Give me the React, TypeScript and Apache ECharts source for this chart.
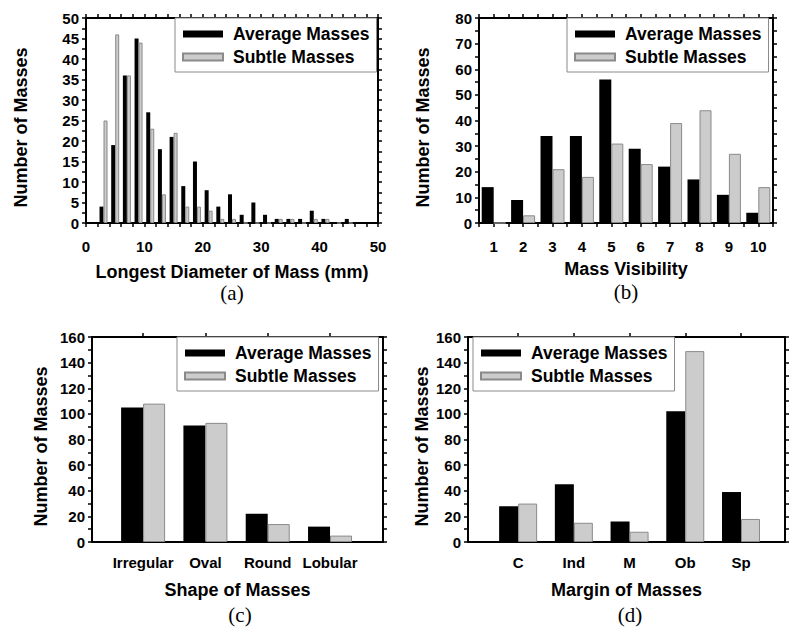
import React, { useEffect, useRef } from "react";
import * as echarts from "echarts";

// (a) Longest diameter of mass (mm)
const diamBins = [3, 5, 7, 9, 11, 13, 15, 17, 19, 21, 23, 25, 27, 29, 31, 33, 35, 37, 39, 41, 43, 45];
const diamAverage = [4, 19, 36, 45, 27, 18, 21, 9, 15, 8, 4, 7, 2, 5, 2, 1, 1, 1, 3, 1, 0, 1];
const diamSubtle = [25, 46, 36, 44, 23, 7, 22, 4, 4, 3, 1, 1, 0, 0, 0, 1, 1, 0, 1, 1, 0, 0];

// (b) Mass visibility
const visLevels = [1, 2, 3, 4, 5, 6, 7, 8, 9, 10];
const visAverage = [14, 9, 34, 34, 56, 29, 22, 17, 11, 4];
const visSubtle = [0, 3, 21, 18, 31, 23, 39, 44, 27, 14];

// (c) Shape of masses
const shapeCats = ["Irregular", "Oval", "Round", "Lobular"];
const shapeAverage = [105, 91, 22, 12];
const shapeSubtle = [108, 93, 14, 5];

// (d) Margin of masses
const marginCats = ["C", "Ind", "M", "Ob", "Sp"];
const marginAverage = [28, 45, 16, 102, 39];
const marginSubtle = [30, 15, 8, 149, 18];

const seriesNames = ["Average Masses", "Subtle Masses"];
const captions = ["(a)", "(b)", "(c)", "(d)"];

const FONT = '"Liberation Sans", Arial, Helvetica, sans-serif';
const SERIF = '"Liberation Serif", "Times New Roman", serif';
const AXIS_LINE = { color: "#000", width: 2 };
const TICK_LINE = { color: "#000", width: 1.5 };

const labelStyle = { fontFamily: FONT, fontWeight: "bold" as const, fontSize: 15, color: "#000" };
const nameStyle = { fontFamily: FONT, fontWeight: "bold" as const, fontSize: 18, color: "#000" };

type AxisCfg = {
  min: number;
  max: number;
  interval?: number;
  minorSplit?: number;
  customTicks?: number[];
  customLabels?: number[];
  formatter?: (v: number) => string;
  bottomTicks?: boolean;
};

function xAxes(grid: number, cfg: AxisCfg, name: string, nameGap: number, labelMargin: number) {
  const base: any = {
    type: "value",
    gridIndex: grid,
    min: cfg.min,
    max: cfg.max,
    splitLine: { show: false },
    minorSplitLine: { show: false },
    axisLine: { show: true, onZero: false, lineStyle: AXIS_LINE },
  };
  if (cfg.interval !== undefined) base.interval = cfg.interval;
  const tick: any = { show: true, inside: false, length: 4, lineStyle: TICK_LINE };
  if (cfg.customTicks) tick.customValues = cfg.customTicks;
  const minor: any = cfg.minorSplit
    ? { show: true, splitNumber: cfg.minorSplit, length: 4, lineStyle: TICK_LINE }
    : { show: false };
  const label: any = { ...labelStyle, margin: labelMargin, showMinLabel: true, showMaxLabel: true };
  if (cfg.customLabels) label.customValues = cfg.customLabels;
  if (cfg.formatter) label.formatter = cfg.formatter;
  return [
    {
      ...base,
      position: "bottom",
      axisTick: cfg.bottomTicks === false ? { show: false } : tick,
      minorTick: cfg.bottomTicks === false ? { show: false } : minor,
      axisLabel: label,
      name,
      nameLocation: "middle",
      nameGap,
      nameTextStyle: nameStyle,
    },
    {
      ...base,
      position: "top",
      axisTick: tick,
      minorTick: minor,
      axisLabel: { show: false },
    },
  ];
}

function yAxes(grid: number, max: number, interval: number, nameGap: number) {
  const base: any = {
    type: "value",
    gridIndex: grid,
    min: 0,
    max,
    interval,
    splitLine: { show: false },
    minorSplitLine: { show: false },
    axisLine: { show: true, onZero: false, lineStyle: AXIS_LINE },
    axisTick: { show: true, inside: false, length: 4, lineStyle: TICK_LINE },
    minorTick: { show: true, splitNumber: 2, length: 4, lineStyle: TICK_LINE },
  };
  return [
    {
      ...base,
      position: "left",
      axisLabel: { ...labelStyle, margin: 7, showMinLabel: true, showMaxLabel: true },
      name: "Number of Masses",
      nameLocation: "middle",
      nameGap,
      nameRotate: 90,
      nameTextStyle: { ...nameStyle, padding: [0, 14, 0, 0] },
    },
    { ...base, position: "right", axisLabel: { show: false } },
  ];
}

function barPair(xIdx: number, yIdx: number, xs: number[], avg: number[], sub: number[], width: number) {
  return [
    {
      type: "bar",
      name: seriesNames[0],
      xAxisIndex: xIdx,
      yAxisIndex: yIdx,
      barWidth: width,
      barGap: "0%",
      itemStyle: { color: "#000", borderColor: "#000", borderWidth: 0 },
      data: xs.map((x, i) => [x, avg[i]]),
    },
    {
      type: "bar",
      name: seriesNames[1],
      xAxisIndex: xIdx,
      yAxisIndex: yIdx,
      barWidth: width,
      barGap: "0%",
      itemStyle: { color: "#cccccc", borderColor: "#8a8a8a", borderWidth: 1 },
      data: xs.map((x, i) => [x, sub[i]]),
    },
  ];
}

function legendAt(left: number, top: number) {
  return {
    data: seriesNames,
    orient: "vertical",
    left,
    top,
    icon: "rect",
    itemWidth: 40,
    itemHeight: 7,
    itemGap: 5,
    padding: [7, 7, 6, 7],
    backgroundColor: "#fff",
    borderColor: "#8a8a8a",
    borderWidth: 1,
    borderRadius: 0,
    selectedMode: false,
    textStyle: { fontFamily: FONT, fontWeight: "bold", fontSize: 17.5, color: "#000", padding: [0, 0, 0, 5] },
  };
}

export default function App() {
  const ref = useRef<HTMLDivElement>(null);
  useEffect(() => {
    if (!ref.current) return;
    const chart = echarts.init(ref.current, null, { renderer: "svg" });

    const shapePos = shapeCats.map((_, i) => i + 1);
    const marginPos = marginCats.map((_, i) => i + 1);

    const xA = xAxes(0, { min: 0, max: 50, interval: 10, minorSplit: 5 }, "Longest Diameter of Mass (mm)", 40, 16);
    const xB = xAxes(
      1,
      { min: 0.5, max: 10.5, interval: 0.5, formatter: (v: number) => (Number.isInteger(v) ? String(v) : "") },
      "Mass Visibility",
      37,
      16
    );
    const xC = xAxes(
      2,
      {
        min: 0.18,
        max: 4.85,
        customTicks: shapePos,
        customLabels: shapePos,
        formatter: (v: number) => shapeCats[Math.round(v) - 1] ?? "",
        bottomTicks: false,
      },
      "Shape of Masses",
      39,
      13
    );
    const xD = xAxes(
      3,
      {
        min: 0.1,
        max: 5.79,
        customTicks: marginPos,
        customLabels: marginPos,
        formatter: (v: number) => marginCats[Math.round(v) - 1] ?? "",
        bottomTicks: false,
      },
      "Margin of Masses",
      39,
      13
    );

    const option: any = {
      animation: false,
      backgroundColor: "#fff",
      grid: [
        { left: 86, top: 18, width: 292, height: 205 },
        { left: 479, top: 18, width: 294, height: 205 },
        { left: 92, top: 337, width: 291, height: 205 },
        { left: 468, top: 337, width: 317, height: 205 },
      ],
      xAxis: [...xA, ...xB, ...xC, ...xD],
      yAxis: [
        ...yAxes(0, 50, 5, 56),
        ...yAxes(1, 80, 10, 47),
        ...yAxes(2, 160, 20, 42),
        ...yAxes(3, 160, 20, 37),
      ],
      legend: [legendAt(175, 18), legendAt(567, 18), legendAt(177, 337), legendAt(473, 337)],
      series: [
        ...barPair(0, 0, diamBins, diamAverage, diamSubtle, 4),
        ...barPair(2, 2, visLevels, visAverage, visSubtle, 12),
        ...barPair(4, 4, shapePos, shapeAverage, shapeSubtle, 22),
        ...barPair(6, 6, marginPos, marginAverage, marginSubtle, 19),
      ],
      graphic: [
        [232, 293],
        [626, 292],
        [240, 615],
        [630, 615],
      ].map(([x, y], i) => ({
        type: "text",
        x,
        y,
        style: {
          text: captions[i],
          font: `21px ${SERIF}`,
          fill: "#000",
          align: "center",
          verticalAlign: "middle",
          textAlign: "center",
          textVerticalAlign: "middle",
        },
      })),
    };
    chart.setOption(option);
    return () => chart.dispose();
  }, []);
  return <div ref={ref} style={{ position: "fixed", left: 0, top: 0, width: 800, height: 635 }} />;
}
